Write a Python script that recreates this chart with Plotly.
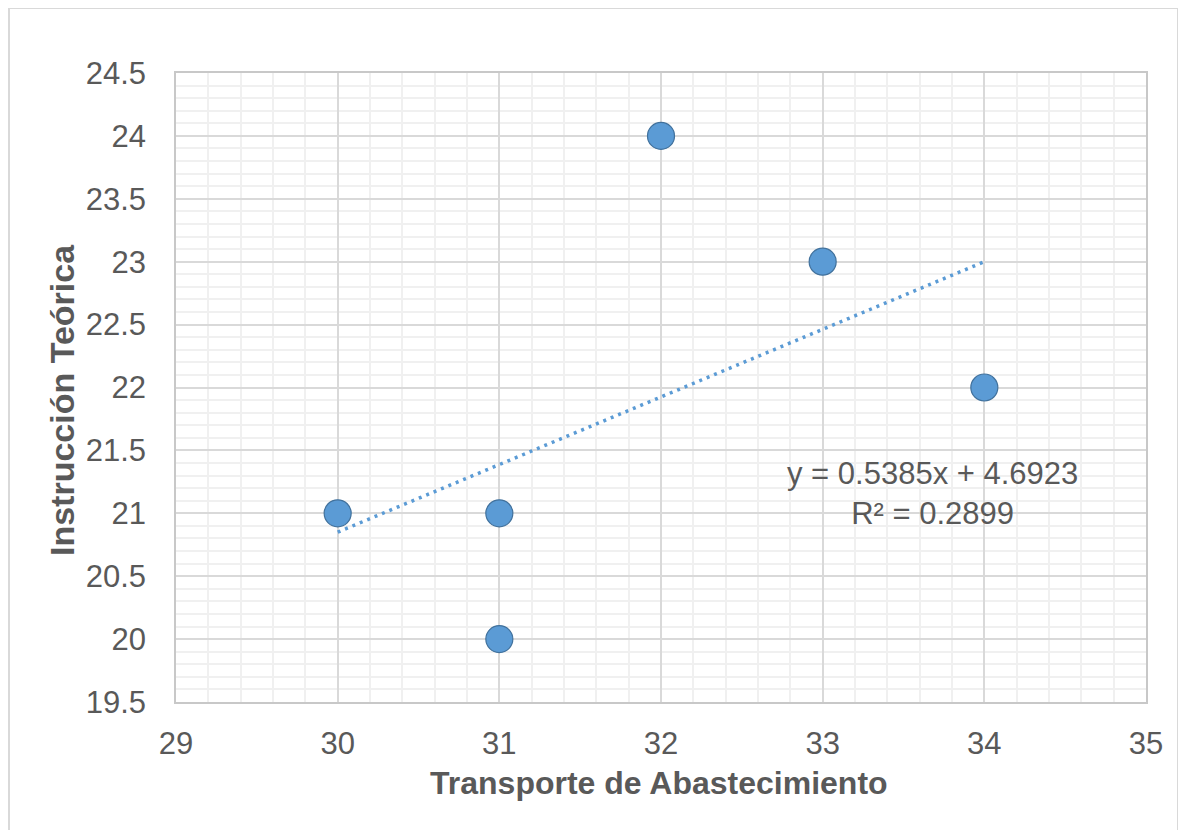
import plotly.graph_objects as go

# Data
transporte = [30, 31, 31, 32, 33, 34]
instruccion = [21, 21, 20, 24, 23, 22]
trend_x = [30, 34]
trend_y = [20.85, 23.00]
equation_text = "y = 0.5385x + 4.6923"
r2_text = "R² = 0.2899"
x_title = "Transporte de Abastecimiento"
y_title = "Instrucción Teórica"

FONT = "Liberation Sans, Arial, sans-serif"
TXT = "#595959"

fig = go.Figure()
fig.add_trace(go.Scatter(
    x=trend_x, y=trend_y, mode="lines",
    line=dict(color="#5B9BD5", width=3.5, dash="3px,5px"),
    hoverinfo="skip", showlegend=False))
fig.add_trace(go.Scatter(
    x=transporte, y=instruccion, mode="markers",
    marker=dict(size=27, color="#5B9BD5", line=dict(color="#41719C", width=1.2)),
    showlegend=False))

fig.update_layout(
    width=1170, height=822,
    margin=dict(l=168, r=32, t=65, b=128),
    paper_bgcolor="white", plot_bgcolor="white",
    font=dict(family=FONT, size=31, color=TXT),
    xaxis=dict(range=[29, 35], dtick=1, tick0=29, showgrid=True,
               gridcolor="#D9D9D9", gridwidth=1.5,
               minor=dict(dtick=0.2, showgrid=True, gridcolor="#F0F0F0", gridwidth=1.5),
               showline=True, linecolor="#C8C8C8", linewidth=1.5, mirror=True,
               zeroline=False, ticks="", ticklabelstandoff=13,
               tickfont=dict(family=FONT, size=31, color=TXT)),
    yaxis=dict(range=[19.5, 24.5], dtick=0.5, tick0=19.5, showgrid=True,
               gridcolor="#D9D9D9", gridwidth=1.5,
               minor=dict(dtick=0.1, showgrid=True, gridcolor="#F0F0F0", gridwidth=1.5),
               showline=True, linecolor="#C8C8C8", linewidth=1.5, mirror=True,
               zeroline=False, ticks="", ticklabelstandoff=22,
               tickfont=dict(family=FONT, size=31, color=TXT)),
)

fig.add_annotation(text=f"<b>{x_title}</b>", xref="paper", yref="paper",
                   x=(659 - 176) / 970, y=(702 - 783) / 629, showarrow=False,
                   xanchor="center", yanchor="middle",
                   font=dict(family=FONT, size=32, color=TXT))
fig.add_annotation(text=f"<b>{y_title}</b>", xref="paper", yref="paper",
                   x=(62 - 176) / 970, y=(702 - 400) / 629, showarrow=False,
                   xanchor="center", yanchor="middle",
                   textangle=-90, font=dict(family=FONT, size=34, color=TXT))
fig.add_annotation(text=f"{equation_text}<br>{r2_text}", xref="paper", yref="paper",
                   x=(932 - 176) / 970, y=(702 - 493) / 629, showarrow=False,
                   xanchor="center", yanchor="middle",
                   align="center", font=dict(family=FONT, size=31, color=TXT))

# outer chart border
fig.add_shape(type="rect", xref="paper", yref="paper",
              x0=(9 - 176) / 970, x1=(1178 - 176) / 970,
              y0=(702 - 860) / 629, y1=(702 - 8) / 629,
              line=dict(color="#D9D9D9", width=2), layer="below")

fig.write_html("out.html")
